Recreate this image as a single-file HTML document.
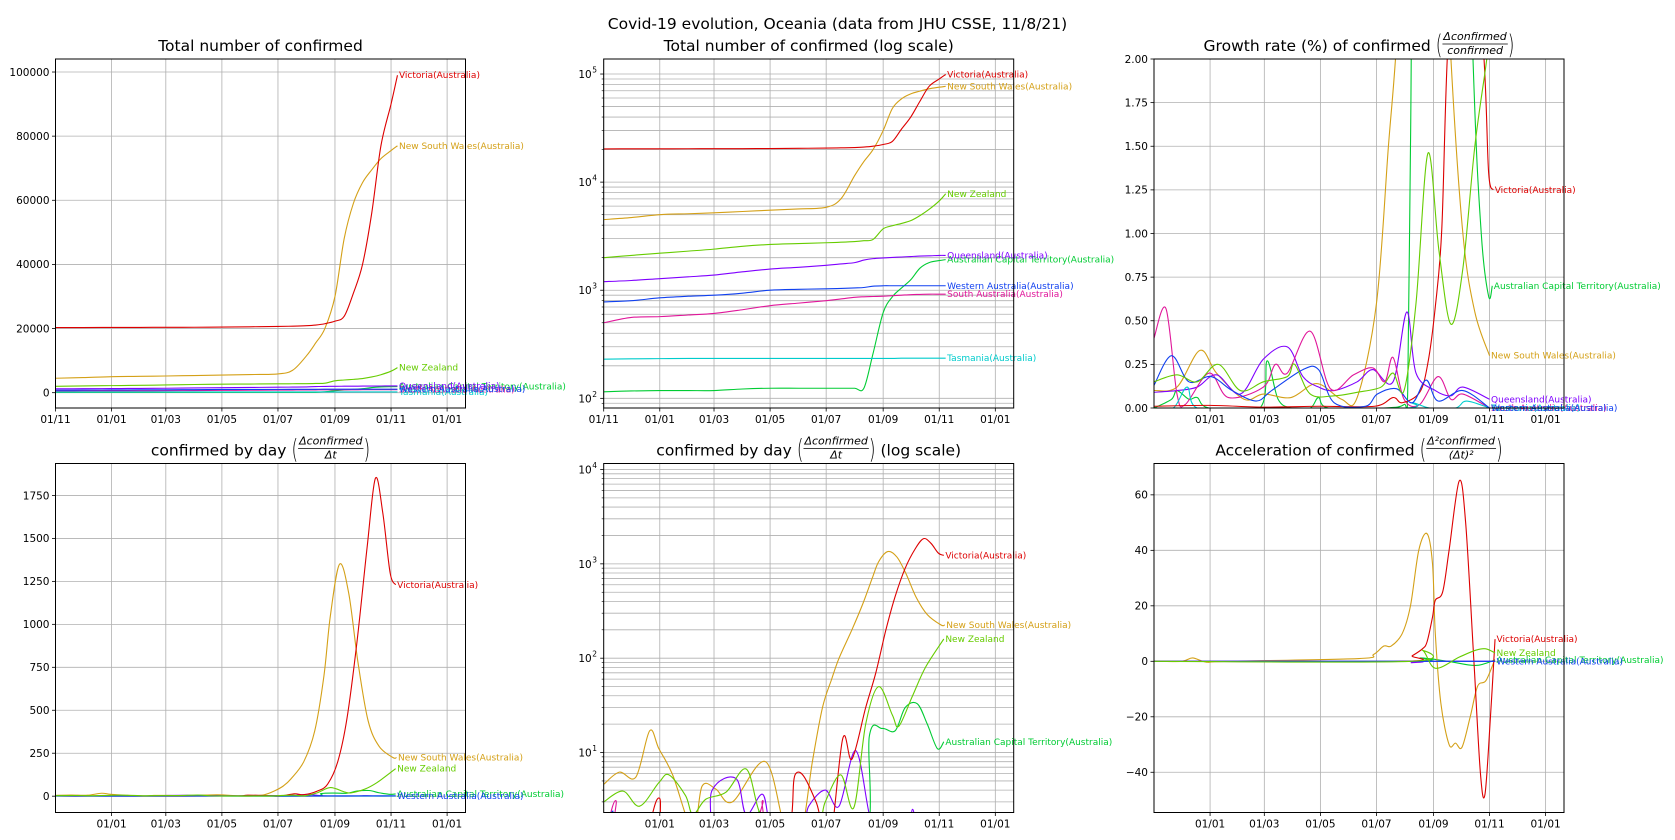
<!DOCTYPE html>
<html><head><meta charset="utf-8">
<style>
html,body{margin:0;padding:0;background:#fff;}
svg{display:block;font-family:"DejaVu Sans","Liberation Sans",sans-serif;}
</style></head>
<body>
<svg id="fig" xmlns="http://www.w3.org/2000/svg" width="1675" height="840" viewBox="0 0 1675 840">
<rect x="0" y="0" width="1675" height="840" fill="#fff"/>
<text x="837.5" y="29" text-anchor="middle" font-size="15.5" fill="#000">Covid-19 evolution, Oceania (data from JHU CSSE, 11/8/21)</text>
</svg>
<script>
// ---------- Data: totals (charts 1 & 2), days since 2020-11-01 ----------
const totDays = [0,30,61,92,120,151,181,212,242,258,273,283,293,304,314,324,334,344,354,365,372];
const totVic = [20300,20320,20340,20360,20380,20400,20450,20550,20650,20750,20900,21100,21500,22300,23800,31000,40000,56000,77000,90000,99000];
const totNSW = [4500,4700,5000,5100,5200,5350,5500,5650,5850,7000,11500,15500,20000,30000,48000,59000,65500,69500,73000,75500,77000];
const totNZ = [2000,2100,2200,2300,2400,2550,2650,2700,2750,2780,2820,2870,2950,3700,3950,4150,4400,4900,5600,6700,7800];
const totQLD = [1200,1230,1280,1330,1380,1480,1570,1630,1700,1750,1800,1900,1960,1990,2010,2030,2050,2070,2080,2100,2100];
const totACT = [115,117,118,118,118,122,124,124,124,124,124,124,260,620,870,1050,1250,1600,1800,1880,1920];
const totWA = [780,800,850,880,900,940,1000,1020,1030,1040,1050,1060,1090,1100,1100,1100,1100,1100,1100,1100,1100];
const totSA = [500,560,570,590,610,660,720,760,800,830,860,870,875,880,890,900,910,915,920,920,920];
const totTAS = [230,232,233,234,234,234,234,234,234,234,234,234,234,234,234,235,235,235,235,235,235];

// ---------- Data: growth rate % (chart 3) ----------
const gVicDays = [0,60,120,180,240,260,270,289,298,306,313,319,330,345,359,364,369];
const gVic = [0.01,0.015,0.005,0.01,0.01,0.06,0.03,0.09,0.26,0.58,1.02,2.0,3.0,3.0,2.0,1.35,1.25];
const gNSWDays = [0,25,50,68,98,119,149,177,204,221,242,255,264,280,310,323,336,349,365];
const gNSW = [0.1,0.12,0.33,0.2,0.05,0.08,0.06,0.14,0.05,0.06,0.6,1.5,2.1,3.5,3.5,2.0,1.0,0.55,0.3];
const gACTDays = [0,19,25,38,47,60,115,123,135,150,170,179,190,250,272,276,279,283,300,330,347,356,364,368];
const gACT = [0,0.05,0.1,0.05,0.06,0,0,0.27,0.05,0,0,0.06,0,0,0.02,0.1,1.5,3,5,5,2.0,1.0,0.64,0.7];
const gNZDays = [0,25,47,70,94,119,145,153,170,196,221,247,260,272,285,298,310,323,336,349,362,368];
const gNZ = [0.15,0.19,0.15,0.25,0.1,0.15,0.18,0.25,0.08,0.07,0.09,0.12,0.2,0.1,0.6,1.46,0.9,0.48,0.8,1.5,2.0,2.3];
const gQLDDays = [0,25,47,68,94,119,145,162,179,196,221,238,260,275,285,306,323,336,365];
const gQLD = [0.09,0.1,0.12,0.19,0.08,0.28,0.35,0.18,0.12,0.1,0.15,0.22,0.15,0.55,0.2,0.1,0.07,0.12,0.05];
const gWADays = [0,19,38,62,85,111,128,162,179,196,230,243,264,281,296,309,336,365];
const gWA = [0.13,0.3,0.15,0.18,0.1,0.04,0.1,0.22,0.22,0.03,0.01,0.08,0.11,0.03,0.16,0.04,0.1,0.0];
const gSADays = [0,13,25,34,60,81,119,132,145,170,192,217,238,251,260,272,289,309,323,336,365];
const gSA = [0.4,0.57,0.08,0.02,0.2,0.06,0.12,0.25,0.2,0.44,0.11,0.19,0.23,0.15,0.29,0.05,0.02,0.18,0.05,0.08,0.0];
const gTASDays = [0,21,36,47,100,272,281,300,328,340,365];
const gTAS = [0,0,0.12,0,0,0,0.03,0,0,0.04,0];

// ---------- Data: confirmed by day (charts 4 & 5) ----------
const dNSWDays = [0,17,35,50,60,75,97,107,122,140,176,198,215,227,238,248,256,270,282,292,299,309,319,329,340,352,367,371];
const dNSW = [4.6,6.2,5.5,17,11,5.8,1.5,4.4,4.1,3,8,1.5,1.5,8,30,60,100,200,380,700,1050,1350,1180,780,440,290,225,225];
const dVicDays = [0,40,60,75,190,209,231,245,260,270,285,296,307,317,328,339,348,356,364,370];
const dVic = [1,1,3.3,1,1,6,3,1,14,8.5,30,70,200,450,900,1450,1850,1650,1300,1230];
const dNZDays = [0,21,39,60,71,89,97,111,133,155,169,184,230,241,258,272,285,299,314,321,336,350,370];
const dNZ = [3,3.9,2.7,4.8,5.8,3.5,2.2,3.2,3.8,6.7,2.4,1.5,1.5,3,5.8,2.6,20,50,25,19,40,80,160];
const dACTDays = [0,160,169,178,280,289,303,317,328,341,352,363,370];
const dACT = [1,1,2.4,1,1,15,18,17,30,33,20,11,13];
const dQLDDays = [0,105,118,144,155,173,184,215,223,241,256,274,289,300,330,336,345,370];
const dQLD = [1,1,4,5.3,2.2,3.6,1.5,1.5,2.7,4,2.7,10.5,2.2,1,1,2.5,1,1];
const dSADays = [0,13,25,160,173,185,370];
const dSA = [1,3.1,1,1,3.1,1,1];
const dWADays = [0,10,20,370];
const dWA = [1,2.4,1,2];
const dTASDays = [0,370];
const dTAS = [0.5,0.5];

// ---------- Data: acceleration (chart 6) ----------
const aNSWDays = [0,30,42,57,80,223,239,250,258,270,279,288,297,303,306,312,321,328,335,344,352,361,370];
const aNSW = [0,0,1.2,-0.3,0,1,2.5,5.5,5.5,10,20,40,46,35,10,-15,-30,-29.5,-31,-20,-9,-7,0];
const aVicDays = [0,270,281,292,297,303,306,314,321,332,339,348,355,360,366,371];
const aVic = [0,0,2,4.5,7,16,22,25,40,65,50,0,-40,-48,-20,8];
const aNZDays = [0,280,292,306,332,350,361,371];
const aNZ = [0,0,4,-2.5,1.5,4,4.5,3];
const aACTDays = [0,280,290,320,350,371];
const aACT = [0,0,1.2,0,-1.5,0.5];
const aQLDDays = [0,270,280,290,371];
const aQLD = [0,0,-0.5,0,0];
const aWADays = [0,371];
const aWA = [0,0];

// ---------- Ticks ----------
const xTickDays = [0,61,120,181,242,304,365,426];
const xTickLabels = ["01/11","01/01","01/03","01/05","01/07","01/09","01/11","01/01"];
const yTicks1 = [0,20000,40000,60000,80000,100000];
const yTicks3 = [0,0.25,0.5,0.75,1.0,1.25,1.5,1.75,2.0];
const yTicks3Labels = ["0.00","0.25","0.50","0.75","1.00","1.25","1.50","1.75","2.00"];
const yTicks4 = [0,250,500,750,1000,1250,1500,1750];
const yTicks6 = [-40,-20,0,20,40,60];
const yTicks6Labels = ["\u221240","\u221220","0","20","40","60"];

const C = {vic:'#dd0000', nsw:'#d4a017', nz:'#66cc00', act:'#00cc33', qld:'#7f00ff', wa:'#1040f0', sa:'#e0169a', tas:'#00cccc'};
const NAMES = {vic:'Victoria(Australia)', nsw:'New South Wales(Australia)', nz:'New Zealand', act:'Australian Capital Territory(Australia)', qld:'Queensland(Australia)', wa:'Western Australia(Australia)', sa:'South Australia(Australia)', tas:'Tasmania(Australia)'};

const NS='http://www.w3.org/2000/svg';
const svg=document.getElementById('fig');
const W=410, H=349, XMAX=446;
function el(tag, attrs, parent){
  const e=document.createElementNS(NS,tag);
  for(const k in attrs) e.setAttribute(k,attrs[k]);
  (parent||svg).appendChild(e);
  return e;
}
function smooth(pts){
  let d='M'+pts[0][0].toFixed(2)+','+pts[0][1].toFixed(2);
  for(let i=0;i<pts.length-1;i++){
    const p0=pts[i-1]||pts[i], p1=pts[i], p2=pts[i+1], p3=pts[i+2]||pts[i+1];
    const c1x=p1[0]+(p2[0]-p0[0])/6, c1y=p1[1]+(p2[1]-p0[1])/6;
    const c2x=p2[0]-(p3[0]-p1[0])/6, c2y=p2[1]-(p3[1]-p1[1])/6;
    d+=' C'+c1x.toFixed(2)+','+c1y.toFixed(2)+' '+c2x.toFixed(2)+','+c2y.toFixed(2)+' '+p2[0].toFixed(2)+','+p2[1].toFixed(2);
  }
  return d;
}
let clipId=0;
function makeAxes(name,l,t,type,ymin,ymax){
  const a={l,t,type,ymin,ymax,name};
  a.x=d=>l+d/XMAX*W;
  a.y=v=> type==='log' ? t+(ymax-Math.log10(Math.max(v,1e-3)))/(ymax-ymin)*H : t+(ymax-v)/(ymax-ymin)*H;
  const g=el('g',{});
  
  
  a.g=g;
  const cp=el('clipPath',{id:'cp'+(++clipId)},g);
  el('rect',{x:l,y:t,width:W,height:H},cp);
  a.grid=el('g',{},g);
  
  
  a.plot=el('g',{'clip-path':'url(#cp'+clipId+')'},g);
  
  
  return a;
}
function gridLine(a,x1,y1,x2,y2){
  el('line',{x1,y1,x2,y2,stroke:'#b0b0b0','stroke-width':0.8},a.grid);
}
function xAxis(a,showFirst){
  const yb=a.t+H;
  xTickDays.forEach((d,i)=>{
    if(i===0 && !showFirst) return;
    const x=a.x(d);
    gridLine(a,x,a.t,x,yb);
    el('line',{x1:x,y1:yb,x2:x,y2:yb+3.5,stroke:'#000','stroke-width':0.8},a.g);
    const tx=el('text',{x:x,y:yb+15,'text-anchor':'middle','font-size':10.5,fill:'#000'},a.g);
    tx.textContent=xTickLabels[i];
    
    
  });
}
function yAxisLin(a,ticks,labels){
  ticks.forEach((v,i)=>{
    const y=a.y(v);
    gridLine(a,a.l,y,a.l+W,y);
    el('line',{x1:a.l-3.5,y1:y,x2:a.l,y2:y,stroke:'#000','stroke-width':0.8},a.g);
    const tx=el('text',{x:a.l-6,y:y+3.8,'text-anchor':'end','font-size':10.5,fill:'#000'},a.g);
    tx.textContent=labels?labels[i]:String(v);
    
    
  });
}
function yAxisLog(a){
  for(let e=Math.floor(a.ymin);e<=Math.ceil(a.ymax);e++){
    for(let k=1;k<10;k++){
      const lv=e+Math.log10(k);
      if(lv<a.ymin||lv>a.ymax) continue;
      const y=a.y(Math.pow(10,lv));
      gridLine(a,a.l,y,a.l+W,y);
      el('line',{x1:a.l-(k===1?3.5:2),y1:y,x2:a.l,y2:y,stroke:'#000','stroke-width':k===1?0.8:0.6},a.g);
      if(k===1){
        const tx=el('text',{x:a.l-12,y:y+4,'text-anchor':'end','font-size':10.5,fill:'#000'},a.g);
        tx.textContent='10';
        
        
        const sp=el('text',{x:a.l-11.5,y:y-1.5,'text-anchor':'start','font-size':7.5,fill:'#000'},a.g);
        sp.textContent=String(e);
        
        
      }
    }
  }
}
function frame(a){
  const r=el('rect',{x:a.l,y:a.t,width:W,height:H,fill:'none',stroke:'#000','stroke-width':1},a.g);
  
  
}
function series(a,key,days,vals,label){
  const pts=days.map((d,i)=>[a.x(d),a.y(vals[i])]);
  const p=el('path',{d:smooth(pts),fill:'none',stroke:C[key],'stroke-width':1.1},a.plot);
  
  
  if(label){
    const last=pts[pts.length-1];
    if(last[1]>=a.t-4 && last[1]<=a.t+H+4){
      const tx=el('text',{x:last[0]+1.5,y:last[1]+3,'font-size':9,fill:C[key]},a.g);
      tx.textContent=NAMES[key];
      
      
    }
  }
}
function title(a,pre,num,den,post){
  const cx=a.l+W/2, base=a.t-8;
  const g=el('g',{});
  
  
  const fs=15.5;
  const t1=el('text',{x:0,y:base,'font-size':fs,fill:'#000'},g);
  t1.textContent=pre.trim();
  let total=t1.getComputedTextLength();
  if(!num){t1.setAttribute('x',cx-total/2);return;}
  const gap=5;
  const lp=el('text',{x:0,y:0,'font-size':17,fill:'#000','font-weight':'lighter'},g); lp.textContent='(';
  const nt=el('text',{x:0,y:base-11,'font-size':11,'font-style':'italic',fill:'#000','text-anchor':'middle'},g); nt.textContent=num;
  const dt=el('text',{x:0,y:base+3,'font-size':11,'font-style':'italic',fill:'#000','text-anchor':'middle'},g); dt.textContent=den;
  const rp=el('text',{x:0,y:0,'font-size':17,fill:'#000','font-weight':'lighter'},g); rp.textContent=')';
  let pt=null;
  if(post){pt=el('text',{x:0,y:base,'font-size':fs,fill:'#000'},g); pt.textContent=post.trim();}
  const w1=total, wl=lp.getComputedTextLength(), wf=Math.max(nt.getComputedTextLength(),dt.getComputedTextLength())+2, wr=rp.getComputedTextLength();
  const wp=pt?pt.getComputedTextLength()+gap:0;
  total=w1+gap+wl+wf+wr+wp;
  let x=cx-total/2;
  t1.setAttribute('x',x); x+=w1+gap;
  lp.setAttribute('transform','translate('+x+','+(base+3)+') scale(1,1.55)'); x+=wl;
  nt.setAttribute('x',x+wf/2); dt.setAttribute('x',x+wf/2);
  el('line',{x1:x,y1:base-7,x2:x+wf,y2:base-7,stroke:'#000','stroke-width':0.8},g);
  x+=wf;
  rp.setAttribute('transform','translate('+x+','+(base+3)+') scale(1,1.55)'); x+=wr;
  if(pt) pt.setAttribute('x',x+gap);
}

const order=['act','nsw','qld','sa','tas','vic','wa','nz'];
const TOT={vic:totVic,nsw:totNSW,nz:totNZ,qld:totQLD,act:totACT,wa:totWA,sa:totSA,tas:totTAS};
const GR={vic:[gVicDays,gVic],nsw:[gNSWDays,gNSW],nz:[gNZDays,gNZ],qld:[gQLDDays,gQLD],act:[gACTDays,gACT],wa:[gWADays,gWA],sa:[gSADays,gSA],tas:[gTASDays,gTAS]};
const DY={vic:[dVicDays,dVic],nsw:[dNSWDays,dNSW],nz:[dNZDays,dNZ],qld:[dQLDDays,dQLD],act:[dACTDays,dACT],wa:[dWADays,dWA],sa:[dSADays,dSA],tas:[dTASDays,dTAS]};
const AC={vic:[aVicDays,aVic],nsw:[aNSWDays,aNSW],nz:[aNZDays,aNZ],qld:[aQLDDays,aQLD],act:[aACTDays,aACT],wa:[aWADays,aWA]};

// Chart 1
const a1=makeAxes('chart-total-linear',55.5,59,'lin',-4778,104059);
xAxis(a1,true); yAxisLin(a1,yTicks1);
order.forEach(k=>series(a1,k,totDays,TOT[k],true));
frame(a1); title(a1,'Total number of confirmed');
// Chart 2
const a2=makeAxes('chart-total-log',603.7,59,'log',1.9106,5.139);
xAxis(a2,true); yAxisLog(a2);
order.forEach(k=>series(a2,k,totDays,TOT[k],true));
frame(a2); title(a2,'Total number of confirmed (log scale)');
// Chart 3
const a3=makeAxes('chart-growth-rate',1154,59,'lin',0,2);
xAxis(a3,false); yAxisLin(a3,yTicks3,yTicks3Labels);
order.forEach(k=>series(a3,k,GR[k][0],GR[k][1],true));
frame(a3); title(a3,'Growth rate (%) of confirmed','\u0394confirmed','confirmed');
// Chart 4
const a4=makeAxes('chart-daily-linear',55.5,463.5,'lin',-95,1936);
xAxis(a4,false); yAxisLin(a4,yTicks4);
order.forEach(k=>series(a4,k,DY[k][0],DY[k][1],['vic','nsw','nz','act','wa'].includes(k)));
frame(a4); title(a4,'confirmed by day','\u0394confirmed','\u0394t');
// Chart 5
const a5=makeAxes('chart-daily-log',603.7,463.5,'log',0.3646,4.0635);
xAxis(a5,false); yAxisLog(a5);
order.forEach(k=>series(a5,k,DY[k][0],DY[k][1],true));
frame(a5); title(a5,'confirmed by day','\u0394confirmed','\u0394t','(log scale)');
// Chart 6
const a6=makeAxes('chart-acceleration',1154,463.5,'lin',-54.5,71.3);
xAxis(a6,false); yAxisLin(a6,yTicks6,yTicks6Labels);
['act','nsw','qld','vic','wa','nz'].forEach(k=>series(a6,k,AC[k][0],AC[k][1],['vic','nz','act','wa'].includes(k)));
frame(a6); title(a6,'Acceleration of confirmed','\u0394\u00b2confirmed','(\u0394t)\u00b2');
</script>
</body></html>
